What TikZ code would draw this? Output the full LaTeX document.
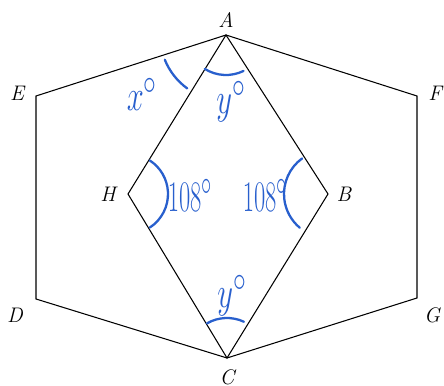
\documentclass[tikz,border=0pt]{standalone}
\usepackage{amsmath}
\usepackage{amssymb}
\usepackage{tikz}
\definecolor{penblue}{RGB}{40,95,205}
\tikzset{
  edge/.style={line width=0.6pt},
  vlabel/.style={font=\large\itshape},
  mark arc/.style={penblue, line width=1.3pt, line cap=round},
  mark text/.style={penblue, font=\Huge, xscale=0.7},
  mark num/.style={mark text, xscale=0.8}
}

\begin{document}
\begin{tikzpicture}[x=0.02cm, y=0.02cm]
      \useasboundingbox (0,0) rectangle (444,386);
      % sommets
      \coordinate (A) at (226,351); \coordinate (B) at (328,192);
      \coordinate (C) at (227,28);  \coordinate (D) at (36,87);
      \coordinate (E) at (36,290);  \coordinate (F) at (417,290);
      \coordinate (G) at (417,88);  \coordinate (H) at (128,192);
      % hexagone et losange
      \draw[edge] (A) -- (F) -- (G) -- (C) -- (D) -- (E) -- cycle;
      \draw[edge] (A) -- (B) -- (C) -- (H) -- cycle;
      % noms des sommets
      \node[vlabel] (lA) at (226,366) {A};
      \node[vlabel] (lB) at (344,192) {B};
      \node[vlabel] (lC) at (227,9) {C};
      \node[vlabel] (lD) at (15,71) {D};
      \node[vlabel] (lE) at (17,293) {E};
      \node[vlabel] (lF) at (435,293) {F};
      \node[vlabel] (lG) at (432,71) {G};
      \node[vlabel] (lH) at (108,192) {H};
      % angles (annotations)
      \draw[mark arc] (A) ++(202:66) arc[start angle=202, end angle=234, radius=66];
      \draw[mark arc] (A) ++(238:40) arc[start angle=238, end angle=296, radius=40];
      \draw[mark arc] (H) ++(-57:40) arc[start angle=-57, end angle=57, radius=40];
      \draw[mark arc] (B) ++(126:44) arc[start angle=126, end angle=230, radius=44];
      \draw[mark arc] (C) ++(65:40) arc[start angle=65, end angle=120, radius=40];
      \node[mark text] (tx) at (142,292) {$x^\circ$};
      \node[mark text] (tyA) at (231,284) {$y^\circ$};
      \node[mark num] (tH) at (190,191) {$108^\circ$};
      \node[mark num] (tB) at (265,191) {$108^\circ$};
      \node[mark text] (tyC) at (232,90) {$y^\circ$};
    \end{tikzpicture}
\end{document}
